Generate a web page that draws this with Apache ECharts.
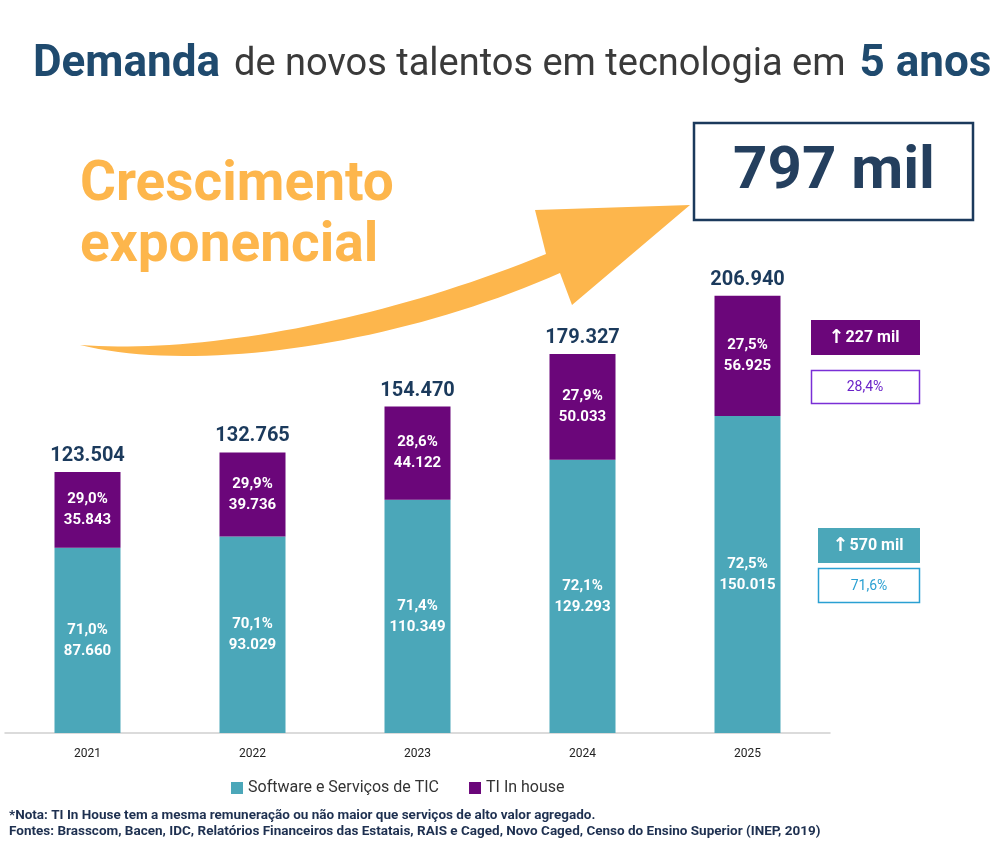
<!DOCTYPE html>
<html><head><meta charset="utf-8">
<script src="https://cdn.jsdelivr.net/npm/echarts@6/dist/echarts.min.js"></script>
<style>html,body{margin:0;padding:0;background:#fff}#c{width:1000px;height:852px}</style>
</head><body><div id="c"></div>
<script>
const years = ['2021','2022','2023','2024','2025'];
const softwareValues = [87660, 93029, 110349, 129293, 150015];
const inHouseValues = [35843, 39736, 44122, 50033, 56925];
const totals = [123504, 132765, 154470, 179327, 206940];
const softwarePct = ['71,0%','70,1%','71,4%','72,1%','72,5%'];
const inHousePct = ['29,0%','29,9%','28,6%','27,9%','27,5%'];
const seriesNames = ['Software e Serviços de TIC','TI In house'];
const headline = '797 mil';
const inHouseGrowth = '227 mil', inHouseShare = '28,4%';
const softwareGrowth = '570 mil', softwareShare = '71,6%';
const note1 = '*Nota: TI In House tem a mesma remuneração ou não maior que serviços de alto valor agregado.';
const note2 = 'Fontes: Brasscom, Bacen, IDC, Relatórios Financeiros das Estatais, RAIS e Caged, Novo Caged, Censo do Ensino Superior (INEP, 2019)';

const TEAL = '#4BA7B9', PURPLE = '#6B067A', NAVY = '#1B3A5C', ORANGE = '#FDB64C';
const FONT = 'Roboto';
const fmt = v => String(v).replace(/\B(?=(\d{3})+(?!\d))/g, '.');

// decorative arrow outline (cubic curves sampled into a polygon)
function cubic(p0, p1, p2, p3, n) {
  const pts = [];
  for (let i = 0; i <= n; i++) {
    const t = i / n, u = 1 - t;
    pts.push([
      u*u*u*p0[0] + 3*u*u*t*p1[0] + 3*u*t*t*p2[0] + t*t*t*p3[0],
      u*u*u*p0[1] + 3*u*u*t*p1[1] + 3*u*t*t*p2[1] + t*t*t*p3[1]
    ]);
  }
  return pts;
}
const arrowPts = [].concat(
  cubic([80,345],[200,354],[380,322],[546,254], 40),
  [[535,210],[690,205],[572,305]],
  cubic([560,273],[400,344],[200,374],[80,345], 40)
);
const growthRich = {
  a: {fontFamily: 'DejaVu Sans', fontSize: 19, fontWeight: 'bold', fill: '#fff', padding: [0, 1, 0, 0]},
  t: {fontFamily: FONT, fontSize: 16, fontWeight: 'bold', fill: '#fff'}
};

const chart = echarts.init(document.getElementById('c'));
chart.setOption({
  animation: false,
  textStyle: {fontFamily: FONT},
  title: {
    left: 28, top: 38,
    text: '{b|Demanda}{s| }{r|de novos talentos em tecnologia em}{s| }{b|5 anos}',
    textStyle: {rich: {
      b: {fontSize: 44, fontWeight: 'bold', color: '#1F4A6E', fontFamily: FONT},
      r: {fontSize: 38, fontWeight: 'normal', color: '#3a3a3a', fontFamily: FONT},
      s: {fontSize: 38, width: 14}
    }}
  },
  legend: {
    left: 226, top: 775, itemWidth: 12, itemHeight: 12, itemGap: 30, icon: 'rect',
    data: seriesNames,
    textStyle: {fontSize: 16, color: '#333', fontFamily: FONT}
  },
  grid: {left: 5, right: 170, top: 99, bottom: 119},
  xAxis: {
    type: 'category', data: years,
    axisLine: {lineStyle: {color: '#cfcfcf', width: 1.5}},
    axisTick: {show: false},
    axisLabel: {fontSize: 12, color: '#222', margin: 15}
  },
  yAxis: {type: 'value', min: 0, max: 300000, show: false, splitLine: {show: false}},
  series: [
    {
      name: seriesNames[0], type: 'bar', stack: 't', barWidth: 66,
      data: softwareValues, itemStyle: {color: TEAL},
      label: {show: true, position: 'inside', color: '#fff', fontWeight: 'bold', fontSize: 15, lineHeight: 21,
        formatter: p => softwarePct[p.dataIndex] + '\n' + fmt(p.value)}
    },
    {
      name: seriesNames[1], type: 'bar', stack: 't', barWidth: 66,
      data: inHouseValues, itemStyle: {color: PURPLE},
      label: {show: true, position: 'inside', color: '#fff', fontWeight: 'bold', fontSize: 15, lineHeight: 21,
        formatter: p => inHousePct[p.dataIndex] + '\n' + fmt(p.value)}
    },
    {
      name: 'Total', type: 'scatter', data: totals, symbolSize: 0, silent: true,
      itemStyle: {opacity: 1, color: NAVY},
      label: {show: true, position: 'top', distance: 6, color: NAVY, fontWeight: 'bold', fontSize: 20,
        formatter: p => fmt(p.value)}
    }
  ],
  graphic: [
    {type: 'text', x: 80, y: 159, style: {text: 'Crescimento', fill: ORANGE, font: 'bold 55px ' + FONT}},
    {type: 'text', x: 80, y: 220, style: {text: 'exponencial', fill: ORANGE, font: 'bold 55px ' + FONT}},
    {type: 'polygon', shape: {points: arrowPts}, style: {fill: ORANGE}, silent: true},
    {type: 'rect', shape: {x: 694, y: 123, width: 279, height: 97}, style: {fill: '#fff', stroke: NAVY, lineWidth: 2.5}},
    {type: 'text', x: 834, y: 173, style: {text: headline, fill: '#243F5E', font: 'bold 60px ' + FONT, align: 'center', verticalAlign: 'middle'}},
    {type: 'rect', shape: {x: 811, y: 320, width: 109, height: 35}, style: {fill: PURPLE}},
    {type: 'text', x: 864, y: 338, style: {text: '{a|↑}{t|' + inHouseGrowth + '}', rich: growthRich, align: 'center', verticalAlign: 'middle'}},
    {type: 'rect', shape: {x: 811.5, y: 370.5, width: 108, height: 33}, style: {fill: '#fff', stroke: '#7A2FD6', lineWidth: 1.5}},
    {type: 'text', x: 865, y: 387, style: {text: inHouseShare, fill: '#6A22C8', font: '14px ' + FONT, align: 'center', verticalAlign: 'middle'}},
    {type: 'rect', shape: {x: 818, y: 528, width: 102, height: 35}, style: {fill: TEAL}},
    {type: 'text', x: 868, y: 546, style: {text: '{a|↑}{t|' + softwareGrowth + '}', rich: growthRich, align: 'center', verticalAlign: 'middle'}},
    {type: 'rect', shape: {x: 818.5, y: 568.5, width: 101, height: 34}, style: {fill: '#fff', stroke: '#2AA0D2', lineWidth: 1.5}},
    {type: 'text', x: 869, y: 586, style: {text: softwareShare, fill: '#2AA0D2', font: '14px ' + FONT, align: 'center', verticalAlign: 'middle'}},
    {type: 'text', x: 9, y: 809, style: {text: note1, fill: '#1E3050', font: 'bold 13.5px ' + FONT}},
    {type: 'text', x: 9, y: 825, style: {text: note2, fill: '#1E3050', font: 'bold 13.5px ' + FONT}}
  ]
});
</script></body></html>
